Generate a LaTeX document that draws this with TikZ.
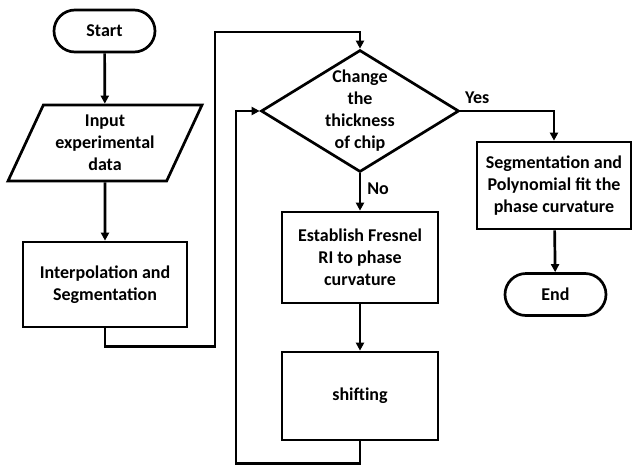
\documentclass[tikz,border=0pt]{standalone}
\usepackage{fontspec}
\setmainfont{Carlito}
\usetikzlibrary{shapes.geometric,shapes.misc,arrows.meta}

\tikzset{
  every node/.style={font=\bfseries\fontsize{18}{22}\selectfont},
  terminal/.style={draw, rounded rectangle, line width=2.7pt, minimum width=101pt, minimum height=42pt, inner sep=0pt},
  procbox/.style={draw, rectangle, line width=2.7pt, align=center, inner sep=0pt},
  iobox/.style={draw, trapezium, trapezium left angle=63, trapezium right angle=117, trapezium stretches=true, line width=2.7pt, minimum width=194pt, minimum height=76pt, inner sep=0pt, align=center},
  decision/.style={draw, diamond, line width=2.7pt, minimum width=198pt, minimum height=122pt, inner sep=0pt},
  arr/.style={line width=2.7pt, -{Triangle[length=8pt,width=8pt]}},
  lbl/.style={inner sep=2pt}
}

\begin{document}
\begin{tikzpicture}[x=1pt, y=-1pt]
    \useasboundingbox (0,0) rectangle (632,464);
    % left column
    \node[terminal] (start) at (104.5,31) {Start};
    \node[iobox] (input) at (105,143) {Input\\experimental\\data};
    \node[procbox, minimum width=164pt, minimum height=85pt] (interp) at (105,284.5) {Interpolation and\\Segmentation};
    % middle column
    \node[decision] (dec) at (360,111) {};
    \node[align=center, inner sep=0pt] (dectext) at (dec.center) {Change\\the\\thickness\\of chip};
    \node[procbox, minimum width=156pt, minimum height=91pt] (est) at (360,257.5) {Establish Fresnel\\RI to phase\\curvature};
    \node[procbox, minimum width=156pt, minimum height=88pt] (shift) at (360,396) {shifting};
    % right column
    \node[procbox, minimum width=154pt, minimum height=87pt] (seg) at (554,185.5) {Segmentation and\\Polynomial fit the\\phase curvature};
    \node[terminal] (end) at (555.5,294.5) {End};
    % helper points
    \coordinate (jR) at (215,32);
    \coordinate (jL) at (236,111);

    \draw[arr] (start) -- (input);
    \draw[arr] (input) -- (interp);
    \draw[arr] (interp.south) -- ++(0,18) -| (jR) -| (dec.north);
    \draw[arr] (dec.east) -| node[lbl, pos=0.09, above=4pt] {Yes} (seg.north);
    \draw[arr] (dec.south) -- node[lbl, pos=0.4, right=4pt] {No} (est.north);
    \draw[arr] (est) -- (shift);
    \draw[arr] (shift.south) -- ++(0,22) -| (jL) -- (dec.west);
    \draw[arr] (seg) -- (end);
\end{tikzpicture}
\end{document}
